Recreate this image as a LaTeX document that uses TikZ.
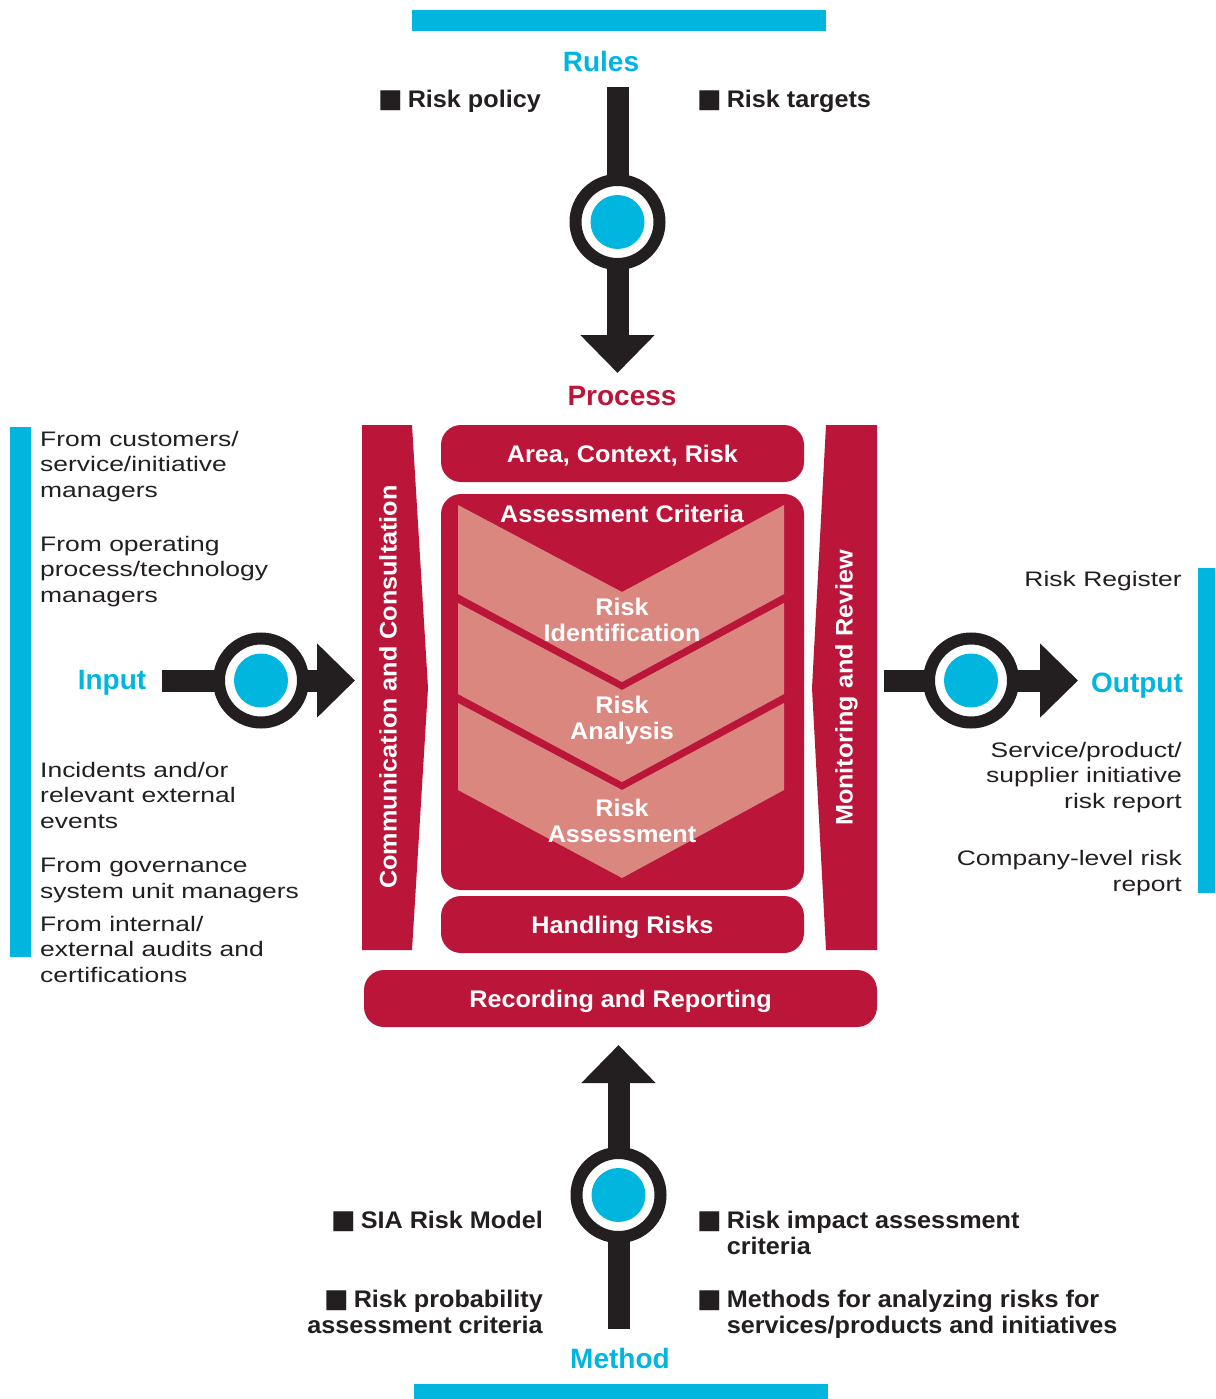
\documentclass[tikz,border=0pt]{standalone}
\usepackage{fontspec}
\setmainfont{Liberation Sans}
\newfontfamily\bodyfont{Liberation Sans}[FakeStretch=1.26]
\newfontfamily\labelfont{Liberation Sans}[FakeStretch=1.05]
\newfontfamily\headfont{Liberation Sans}
\newfontfamily\symfont{DejaVu Sans}
\usetikzlibrary{arrows.meta}

\definecolor{riskred}{HTML}{BB1639}
\definecolor{chevron}{HTML}{D9877F}
\definecolor{accent}{HTML}{00B6DE}
\definecolor{ink}{HTML}{231F20}

\newcommand\sqbullet{{\symfont\fontsize{26}{26}\selectfont\char"25A0}\hspace{5pt}}

\tikzset{
  body/.style={font=\bodyfont\fontsize{21}{25.5}\selectfont, text=ink, inner sep=0pt},
  bullet/.style={font=\labelfont\bfseries\fontsize{24}{26}\selectfont, text=ink, inner sep=0pt},
  heading/.style={font=\headfont\bfseries\fontsize{28}{30}\selectfont, inner sep=0pt},
  stage/.style={fill=riskred, rounded corners=20pt, inner sep=0pt, text=white,
    font=\labelfont\bfseries\fontsize{24}{26}\selectfont, text height=17pt, text depth=0pt},
  steplabel/.style={text=white, inner sep=0pt, align=center,
    font=\labelfont\bfseries\fontsize{24}{26}\selectfont},
  vlabel/.style={text=white, inner sep=0pt, rotate=90, text height=17pt, text depth=0pt,
    font=\labelfont\bfseries\fontsize{24}{26}\selectfont},
  bigarrow/.style={draw=ink, line width=22pt, -{Triangle[length=38pt,width=72pt]}},
  hub/.style={circle, draw=ink, line width=12pt, fill=white, minimum size=84pt, inner sep=0pt,
    path picture={\fill[accent] (path picture bounding box.center) circle[radius=27pt];}},
  rail/.style={fill=accent}
}

\begin{document}
\begin{tikzpicture}[x=1pt,y=-1pt]
\useasboundingbox (0,0) rectangle (1215,1399);

% cyan rails framing the four sides
\fill[rail] (412,10) rectangle (826,31);
\fill[rail] (414,1384) rectangle (828,1399);
\fill[rail] (10,427) rectangle (31,957);
\fill[rail] (1198,568) rectangle (1215,893);

% side columns of the process
\fill[riskred] (362,425) -- (412,425) -- (428,688) -- (412,950) -- (362,950) -- cycle;
\fill[riskred] (826,425) -- (877,425) -- (877,950) -- (826,950) -- (812,688) -- cycle;
\node[vlabel] (comm) at (388,687) {Communication and Consultation};
\node[vlabel] (monitor) at (844,688) {Monitoring and Review};

% process boxes
\node[stage, minimum width=363pt, minimum height=57pt] (area) at (622.5,453.5) {Area, Context, Risk};
\node[stage, minimum width=363pt, minimum height=396pt] (assess) at (622.5,692) {};
\node[stage, minimum width=363pt, minimum height=57pt] (handling) at (622.5,924.5) {Handling Risks};
\node[stage, minimum width=513pt, minimum height=57pt] (recording) at (620.5,998.5) {Recording and Reporting};

% chevrons of the assessment steps
\foreach \t/\b in {505/594, 603/694, 703/790}
  \fill[chevron] (458,\t) -- (622,\t+87) -- (784,\t) -- (784,\b) -- (622,\b+88) -- (458,\b) -- cycle;

\node[steplabel] (criteria) at (622,514) {Assessment Criteria};
\node[steplabel] (ident) at (622,620) {Risk\\Identification};
\node[steplabel] (analysis) at (622,720) {Risk\\Analysis};
\node[steplabel] (assessment) at (622,821) {Risk\\Assessment};

% headings
\node[heading, text=accent, anchor=base] (rules) at (601,72) {Rules};
\node[heading, text=riskred, anchor=base] (process) at (622,405) {Process};
\node[heading, text=accent, anchor=base] (input) at (112,689) {Input};
\node[heading, text=accent, anchor=base] (output) at (1137,692) {Output};
\node[heading, text=accent, anchor=base] (method) at (620,1368) {Method};

% flow arrows with hubs
\coordinate (rulesIn) at (617.5,87);
\coordinate (rulesTip) at (617.5,373);
\draw[bigarrow] (rulesIn) -- (rulesTip);
\node[hub] (rulesHub) at (617.5,222) {};

\coordinate (inputIn) at (162,680.5);
\coordinate (inputTip) at (355,680.5);
\draw[bigarrow] (inputIn) -- (inputTip);
\node[hub] (inputHub) at (261,680.5) {};

\coordinate (outputIn) at (884,680.5);
\coordinate (outputTip) at (1078,680.5);
\draw[bigarrow] (outputIn) -- (outputTip);
\node[hub] (outputHub) at (971,680.5) {};

\coordinate (methodIn) at (618.5,1329);
\coordinate (methodTip) at (618.5,1045);
\draw[bigarrow] (methodIn) -- (methodTip);
\node[hub] (methodHub) at (618.5,1195) {};

% rules items (multi-line nodes are placed by their last baseline)
\node[bullet, anchor=base east] (policy) at (541,108) {\sqbullet Risk policy};
\node[bullet, anchor=base west] (targets) at (697,108) {\sqbullet Risk targets};

% method items
\node[bullet, anchor=base east] (model) at (543,1228) {\sqbullet SIA Risk Model};
\node[bullet, anchor=base east, align=right] (probability) at (543,1333) {\sqbullet Risk probability\\assessment criteria};
\node[bullet, anchor=base west, align=left] (impact) at (697,1254) {\sqbullet Risk impact assessment\\\hphantom{\sqbullet}criteria};
\node[bullet, anchor=base west, align=left] (methods) at (697,1333) {\sqbullet Methods for analyzing risks for\\\hphantom{\sqbullet}services/products and initiatives};

% input sources
\node[body, anchor=base west, align=left] (srcCustomers) at (40,497) {From customers/\\service/initiative\\managers};
\node[body, anchor=base west, align=left] (srcOperating) at (40,602) {From operating\\process/technology\\managers};
\node[body, anchor=base west, align=left] (srcIncidents) at (40,828) {Incidents and/or\\relevant external\\events};
\node[body, anchor=base west, align=left] (srcGovernance) at (40,898) {From governance\\system unit managers};
\node[body, anchor=base west, align=left] (srcAudits) at (40,982) {From internal/\\external audits and\\certifications};

% outputs
\node[body, anchor=base east] (register) at (1182,586) {Risk Register};
\node[body, anchor=base east, align=right] (report) at (1182,808) {Service/product/\\supplier initiative\\risk report};
\node[body, anchor=base east, align=right] (company) at (1182,891) {Company-level risk\\report};
\end{tikzpicture}
\end{document}
